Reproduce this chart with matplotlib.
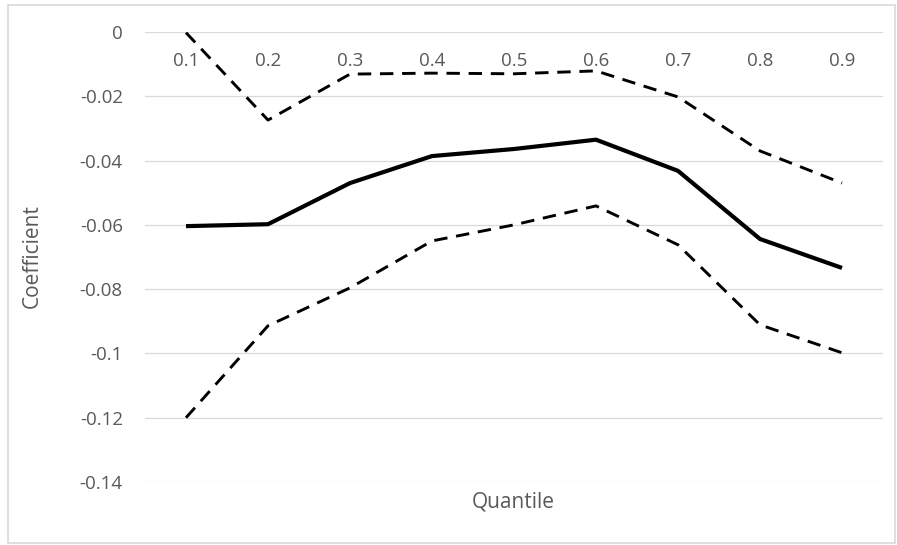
import matplotlib
matplotlib.use('Agg')
import matplotlib.pyplot as plt
from matplotlib.patches import Rectangle

quantiles = ['0.1', '0.2', '0.3', '0.4', '0.5', '0.6', '0.7', '0.8', '0.9']
coef = [-0.0604, -0.0598, -0.0470, -0.0386, -0.0364, -0.0335, -0.0432, -0.0644, -0.0734]
upper = [-0.0002, -0.0274, -0.0131, -0.0128, -0.0130, -0.0121, -0.0202, -0.0370, -0.0470]
lower = [-0.1200, -0.0914, -0.0796, -0.0650, -0.0600, -0.0541, -0.0662, -0.0911, -0.0998]
yticks = [0, -0.02, -0.04, -0.06, -0.08, -0.1, -0.12, -0.14]
ytick_labels = ['0', '-0.02', '-0.04', '-0.06', '-0.08', '-0.1', '-0.12', '-0.14']

plt.rcParams['font.family'] = ['Open Sans', 'DejaVu Sans']
text_color = '#595959'
grid_color = '#d9d9d9'
fs = 13.5

fig = plt.figure(figsize=(8.97, 5.45), dpi=100)
ax = fig.add_axes([145 / 897, 1 - 482 / 545, 738 / 897, 450 / 545])

x = list(range(1, len(quantiles) + 1))
ax.plot(x, upper, color='black', linewidth=2.1, linestyle=(0, (4.6, 3.0)))
ax.plot(x, lower, color='black', linewidth=2.1, linestyle=(0, (4.6, 3.0)))
ax.plot(x, coef, color='black', linewidth=3.0, solid_capstyle='butt')

ax.set_xlim(0.5, len(quantiles) + 0.5)
ax.set_ylim(-0.14, 0)
ax.set_yticks(yticks)
ax.set_yticklabels(ytick_labels, fontsize=fs, color=text_color)
ax.set_xticks([])
ax.tick_params(axis='y', length=0, pad=16)
ax.grid(axis='y', color=grid_color, linewidth=0.9)
ax.set_axisbelow(True)
for s in ax.spines.values():
    s.set_visible(False)

# category labels sit just under the zero line (Excel style)
for xi, lab in zip(x, quantiles):
    ax.annotate(lab, xy=(xi, 0), xytext=(0, -21), textcoords='offset points',
                ha='center', va='center', fontsize=fs, color=text_color)

fig.text(32 / 897, 1 - 256 / 545, 'Coefficient', rotation=90, ha='center', va='center',
         fontsize=15, color=text_color)
fig.text(513 / 897, 1 - 502 / 545, 'Quantile', ha='center', va='center',
         fontsize=15, color=text_color)

fig.patches.append(Rectangle((8 / 897, 2 / 545), 887 / 897, 538 / 545,
                             transform=fig.transFigure, fill=False,
                             edgecolor=grid_color, linewidth=1.2))

fig.savefig('out.png', dpi=100)
